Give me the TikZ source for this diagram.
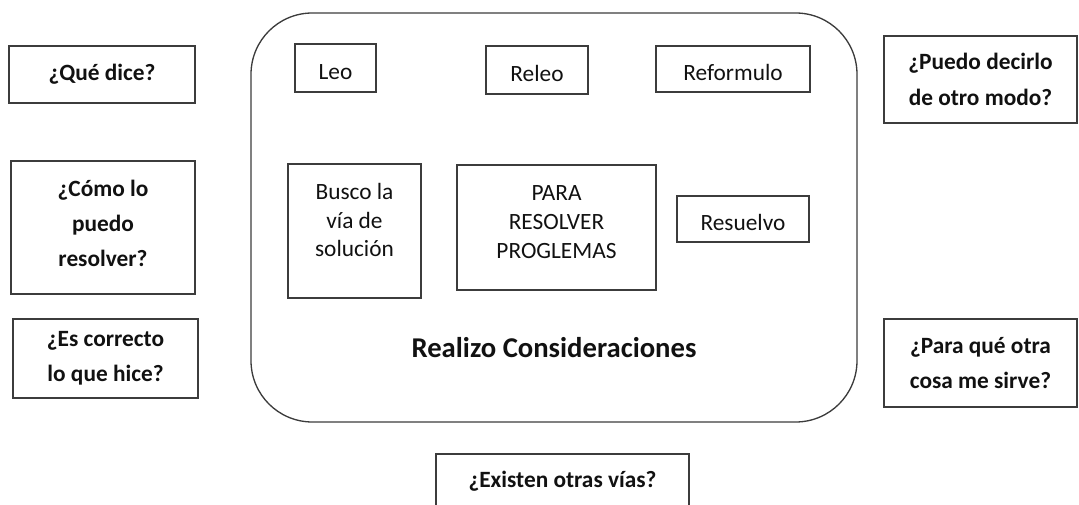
\documentclass[tikz,border=0pt]{standalone}
\usepackage{fontspec}
\setmainfont{Carlito}
\usepackage{tikz}
\usetikzlibrary{positioning}
\definecolor{rpline}{HTML}{3C3C3C}
\definecolor{rpink}{HTML}{111111}
\tikzset{
  questionBox/.style={draw=rpline, line width=0.8pt, align=center, inner sep=0pt, text=rpink, font=\bfseries\fontsize{17.5}{26.5}\selectfont},
  stepBox/.style={draw=rpline, line width=0.8pt, align=center, inner sep=0pt, text=rpink, font=\fontsize{17.5}{22}\selectfont},
  oneLine/.style={text height=18pt, text depth=0pt},
  frameBox/.style={draw=rpline, line width=1pt, rounded corners=46pt, inner sep=0pt},
  stepLabel/.style={align=center, inner sep=0pt, text=rpink, font=\fontsize{17.5}{21.5}\selectfont},
  titleLabel/.style={inner sep=0pt, text=rpink, font=\bfseries\fontsize{21.5}{26}\selectfont}
}

\begin{document}
\begin{tikzpicture}[x=0.75pt,y=-0.75pt]
  \useasboundingbox (0,0) rectangle (1079,505);
  % central frame
  \node[frameBox, minimum width=454.5pt, minimum height=306.75pt] (frame) at (554,217.5) {};
  \node[titleLabel] (realizo) at (554,348) {Realizo Consideraciones};
  % steps inside the frame
  \node[stepBox, oneLine, minimum width=60.75pt, minimum height=36pt] (leo) at (335.5,68) {Leo};
  \node[stepBox, oneLine, minimum width=76.5pt, minimum height=36pt] (releo) at (537,70) {Releo};
  \node[stepBox, oneLine, minimum width=115.5pt, minimum height=34.5pt] (reformulo) at (733,69) {Reformulo};
  \node[stepBox, minimum width=99.75pt, minimum height=100.5pt] (busco) at (354.5,231) {};
  \node[stepLabel] (buscoText) at ([yshift=8.25pt]busco.center) {Busco la\\vía de\\solución};
  \node[stepBox, minimum width=149.25pt, minimum height=93.75pt] (para) at (556.5,227.5) {};
  \node[stepLabel] (paraText) at ([yshift=4pt]para.center) {PARA\\RESOLVER\\PROGLEMAS};
  \node[stepBox, oneLine, minimum width=99pt, minimum height=34.5pt] (resuelvo) at (743,219) {Resuelvo};
  % questions around
  \node[questionBox, minimum width=139.5pt, minimum height=42.75pt] (queDice) at (102,74.5) {¿Qué dice?};
  \node[questionBox, minimum width=138pt, minimum height=99.75pt] (comoLo) at (103,227.5) {};
  \node[questionBox, draw=none] (comoText) at ([yshift=3pt]comoLo.center) {¿Cómo lo\\puedo\\resolver?};
  \node[questionBox, minimum width=138.75pt, minimum height=59.25pt] (esCorrecto) at (105.5,358.5) {¿Es correcto\\lo que hice?};
  \node[questionBox, minimum width=144.75pt, minimum height=65.25pt] (puedo) at (980.5,79.5) {¿Puedo decirlo\\de otro modo?};
  \node[questionBox, minimum width=144.75pt, minimum height=66pt] (paraQue) at (980.5,363) {¿Para qué otra\\cosa me sirve?};
  \node[questionBox, minimum width=189.75pt, minimum height=40.5pt] (existen) at (562.5,481) {¿Existen otras vías?};
\end{tikzpicture}
\end{document}
